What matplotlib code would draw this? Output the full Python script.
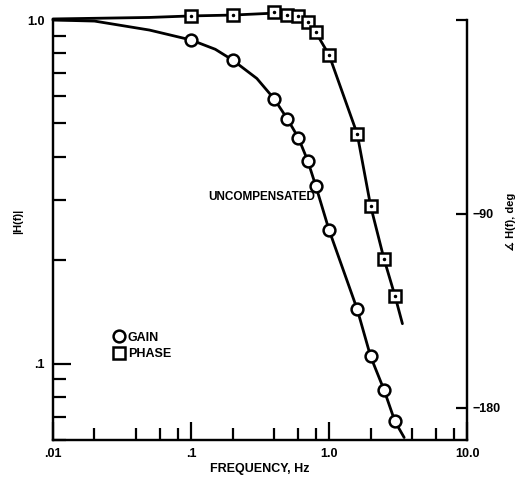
import numpy as np
import matplotlib
matplotlib.use("Agg")
from matplotlib import pyplot as plt
from matplotlib.lines import Line2D
from matplotlib.ticker import LogLocator, FixedLocator, NullFormatter

plt.rcParams['font.family'] = ['Liberation Sans', 'DejaVu Sans']
plt.rcParams['font.weight'] = 'bold'

# ---------------------------------------------------------
# data
# ---------------------------------------------------------
gain_freq = [0.1, 0.2, 0.4, 0.5, 0.6, 0.7, 0.8, 1.0, 1.6, 2.0, 2.5, 3.0]
gain_mag = [0.875, 0.765, 0.59, 0.515, 0.454, 0.39, 0.33, 0.245, 0.144, 0.105, 0.084, 0.068]

# the drawn (fitted) curve through the gain points
gain_curve_freq = [0.01, 0.02, 0.05, 0.1, 0.15, 0.2, 0.3, 0.4, 0.5, 0.6, 0.7, 0.8, 1.0, 1.6, 2.0, 2.5, 3.0, 3.5]
gain_curve_mag = [1.0, 0.993, 0.935, 0.875, 0.822, 0.765, 0.676, 0.59, 0.515, 0.454, 0.39, 0.33, 0.245, 0.144, 0.105, 0.084, 0.068, 0.061]

phase_freq = [0.1, 0.2, 0.4, 0.5, 0.6, 0.7, 0.8, 1.0, 1.6, 2.0, 2.5, 3.0]
phase_deg = [1.9, 2.3, 3.7, 2.3, 1.9, -0.9, -5.6, -16.2, -52.9, -86.3, -110.9, -128.0]

phase_curve_freq = [0.01, 0.05, 0.1, 0.2, 0.4, 0.5, 0.6, 0.7, 0.8, 1.0, 1.6, 2.0, 2.5, 3.0, 3.4]
phase_curve_deg = [0.5, 1.2, 1.9, 2.3, 3.2, 2.6, 1.6, -0.9, -5.6, -16.2, -52.9, -86.3, -110.9, -128.0, -141.0]

xticks = [0.01, 0.1, 1.0, 10.0]
xticklabels = ['.01', '.1', '1.0', '10.0']
yticks = [0.1, 1.0]
yticklabels = ['.1', '1.0']
phase_ticks = [-180, -90, 0]
phase_ticklabels = ['\u2212180', '\u221290', '']

# ---------------------------------------------------------
# figure
# ---------------------------------------------------------
fig = plt.figure(figsize=(5.19, 4.92), dpi=100)
ax = fig.add_axes([0.102, 0.1057, 0.798, 0.8536])
ax2 = ax.twinx()

ax.set_xscale('log')
ax.set_yscale('log')
ax.set_xlim(0.01, 10.0)
ax.set_ylim(0.06, 1.0)
ax2.set_ylim(-195, 0)

# gain
ax.plot(gain_curve_freq, gain_curve_mag, color='black', lw=2, solid_capstyle='round', clip_on=False)
ax.plot(gain_freq, gain_mag, 'o', ms=8.5, mfc='white', mec='black', mew=1.8, clip_on=False)

# phase
ax2.plot(phase_curve_freq, phase_curve_deg, color='black', lw=2, solid_capstyle='round', clip_on=False)
ax2.plot(phase_freq, phase_deg, 's', ms=8, mfc='white', mec='black', mew=1.8, clip_on=False)
ax2.plot(phase_freq, phase_deg, '.', ms=3, color='black', clip_on=False)

# spines
for a in (ax, ax2):
    a.spines['top'].set_visible(False)
    for s in ('left', 'right', 'bottom'):
        a.spines[s].set_linewidth(1.6)

# ticks
ax.xaxis.set_major_locator(FixedLocator(xticks))
ax.set_xticklabels(xticklabels)
ax.xaxis.set_minor_locator(LogLocator(base=10, subs=[2, 4, 6, 8]))
ax.xaxis.set_minor_formatter(NullFormatter())
ax.yaxis.set_major_locator(FixedLocator(yticks))
ax.set_yticklabels(yticklabels)
ax.yaxis.set_minor_locator(LogLocator(base=10, subs=np.arange(2, 10)))
ax.yaxis.set_minor_formatter(NullFormatter())

ax.tick_params(which='major', direction='in', length=13, width=1.6, labelsize=9, pad=6)
ax.tick_params(which='minor', direction='in', length=9, width=1.6)
ax.tick_params(axis='y', which='both', right=False)
ax.tick_params(axis='x', which='both', top=False)

ax2.yaxis.set_major_locator(FixedLocator(phase_ticks))
ax2.set_yticklabels(phase_ticklabels)
ax2.tick_params(axis='y', direction='in', length=8, width=1.6, labelsize=9, pad=4)

# labels
ax.set_xlabel('FREQUENCY, Hz', fontsize=9, fontweight='bold', labelpad=2)
ax.set_ylabel('|H(f)|', fontsize=8, fontweight='bold')
ax.yaxis.set_label_coords(-0.072, 0.52)
ax2.set_ylabel('\u2221 H(f), deg', fontsize=8, fontweight='bold', rotation=90)
ax2.yaxis.set_label_coords(1.095, 0.52)

ax.text(0.374, 0.579, 'UNCOMPENSATED', transform=ax.transAxes, fontsize=8.5,
        fontweight='bold', ha='left', va='center')

handles = [Line2D([], [], ls='none', marker='o', ms=8.5, mfc='white', mec='black', mew=1.8),
           Line2D([], [], ls='none', marker='s', ms=8, mfc='white', mec='black', mew=1.8)]
ax.legend(handles, ['GAIN', 'PHASE'], loc='center left', bbox_to_anchor=(0.12, 0.224),
          frameon=False, handlelength=0.8, handletextpad=0.3, labelspacing=0.35,
          prop={'size': 9, 'weight': 'bold'})

fig.savefig('out.png', dpi=100)
